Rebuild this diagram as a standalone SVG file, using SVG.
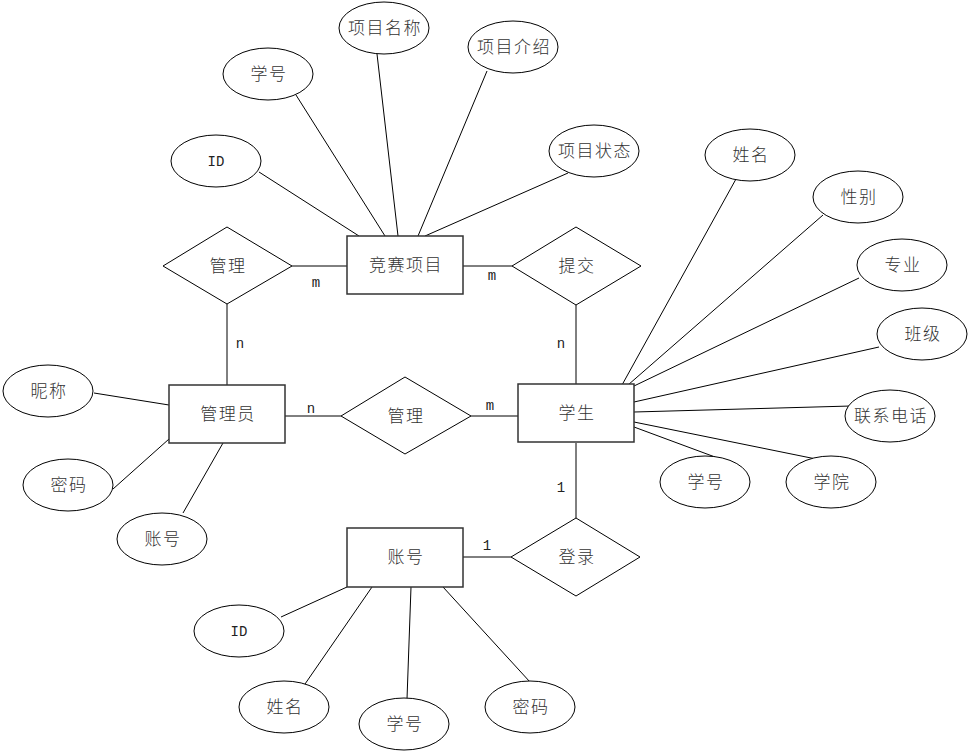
<svg xmlns="http://www.w3.org/2000/svg" width="972" height="755" viewBox="0 0 972 755">
<style>
.e{fill:#fff;stroke:#000;stroke-width:1}
.r{fill:#fff;stroke:#333;stroke-width:1.5}
.d{fill:#fff;stroke:#000;stroke-width:1}
.l{stroke:#000;stroke-width:1;fill:none}
.t{font-family:"Noto Sans CJK SC","Noto Sans",sans-serif;font-size:17px;font-weight:300;fill:#333;text-anchor:middle;letter-spacing:1.5px}
.a{font-family:"Liberation Mono",monospace;font-size:14px;fill:#222;text-anchor:middle}
</style>
<rect width="972" height="755" fill="#fff"/>
<g id="connectors">
<line class="l" x1="259" y1="172" x2="359" y2="236"/>
<line class="l" x1="296" y1="95" x2="385" y2="236"/>
<line class="l" x1="377" y1="54" x2="398" y2="236"/>
<line class="l" x1="487" y1="71" x2="418" y2="236"/>
<line class="l" x1="568" y1="173" x2="425" y2="236"/>
<line class="l" x1="292" y1="266" x2="347" y2="266"/>
<line class="l" x1="463" y1="266" x2="512" y2="266"/>
<line class="l" x1="227" y1="304" x2="227" y2="385"/>
<line class="l" x1="576" y1="305" x2="576" y2="384"/>
<line class="l" x1="285" y1="416" x2="341" y2="416"/>
<line class="l" x1="471" y1="416" x2="518" y2="416"/>
<line class="l" x1="576" y1="443" x2="576" y2="518"/>
<line class="l" x1="463" y1="557" x2="511" y2="557"/>
<line class="l" x1="94" y1="393" x2="169" y2="405"/>
<line class="l" x1="113" y1="489" x2="169" y2="439"/>
<line class="l" x1="183" y1="513" x2="223" y2="443"/>
<line class="l" x1="736" y1="179" x2="622" y2="385"/>
<line class="l" x1="823" y1="215" x2="628" y2="385"/>
<line class="l" x1="859" y1="278" x2="634" y2="386"/>
<line class="l" x1="879" y1="347" x2="634" y2="402"/>
<line class="l" x1="851" y1="406" x2="634" y2="412"/>
<line class="l" x1="816" y1="459" x2="634" y2="422"/>
<line class="l" x1="715" y1="457" x2="634" y2="427"/>
<line class="l" x1="281" y1="617" x2="347" y2="587"/>
<line class="l" x1="305" y1="684" x2="372" y2="587"/>
<line class="l" x1="407" y1="699" x2="411" y2="587"/>
<line class="l" x1="530" y1="682" x2="443" y2="587"/>
<text class="a" x="316" y="287">m</text>
<text class="a" x="492" y="280">m</text>
<text class="a" x="240" y="348">n</text>
<text class="a" x="561" y="348">n</text>
<text class="a" x="311" y="413">n</text>
<text class="a" x="490" y="410">m</text>
<text class="a" x="561" y="492">1</text>
<text class="a" x="487" y="550">1</text>
</g>
<g id="jingsai"><rect class="r" x="347" y="236" width="116" height="58"/><text class="t" x="406" y="271">竞赛项目</text></g>
<g id="a_id1"><ellipse class="e" cx="216" cy="161" rx="45" ry="26"/><text class="a" x="216" y="166">ID</text></g>
<g id="a_xh1"><ellipse class="e" cx="268" cy="74" rx="45" ry="26"/><text class="t" x="269" y="80">学号</text></g>
<g id="a_xmmc"><ellipse class="e" cx="384" cy="28" rx="45" ry="26"/><text class="t" x="385" y="34">项目名称</text></g>
<g id="a_xmjs"><ellipse class="e" cx="513" cy="47" rx="45" ry="26"/><text class="t" x="514" y="53">项目介绍</text></g>
<g id="a_xmzt"><ellipse class="e" cx="594" cy="151" rx="45" ry="26"/><text class="t" x="595" y="157">项目状态</text></g>
<g id="r_guanli1"><polygon class="d" points="163,266 227,227 292,266 227,304"/><text class="t" x="228" y="272">管理</text></g>
<g id="r_tijiao"><polygon class="d" points="512,266 576,227 641,266 576,305"/><text class="t" x="577" y="272">提交</text></g>
<g id="guanliyuan"><rect class="r" x="169" y="385" width="116" height="58"/><text class="t" x="228" y="420">管理员</text></g>
<g id="a_nc"><ellipse class="e" cx="48" cy="391" rx="45" ry="26"/><text class="t" x="49" y="397">昵称</text></g>
<g id="a_mm1"><ellipse class="e" cx="68" cy="485" rx="45" ry="26"/><text class="t" x="69" y="491">密码</text></g>
<g id="a_zh1"><ellipse class="e" cx="162" cy="539" rx="45" ry="26"/><text class="t" x="163" y="545">账号</text></g>
<g id="r_guanli2"><polygon class="d" points="341,416 405,377 471,416 405,454"/><text class="t" x="406" y="422">管理</text></g>
<g id="xuesheng"><rect class="r" x="518" y="384" width="116" height="58"/><text class="t" x="577" y="419">学生</text></g>
<g id="a_xm"><ellipse class="e" cx="750" cy="155" rx="45" ry="26"/><text class="t" x="751" y="161">姓名</text></g>
<g id="a_xb"><ellipse class="e" cx="858" cy="197" rx="45" ry="26"/><text class="t" x="859" y="203">性别</text></g>
<g id="a_zy"><ellipse class="e" cx="902" cy="265" rx="45" ry="26"/><text class="t" x="903" y="271">专业</text></g>
<g id="a_bj"><ellipse class="e" cx="922" cy="334" rx="45" ry="26"/><text class="t" x="923" y="340">班级</text></g>
<g id="a_lxdh"><ellipse class="e" cx="890" cy="416" rx="45" ry="26"/><text class="t" x="891" y="422">联系电话</text></g>
<g id="a_xh2"><ellipse class="e" cx="705" cy="482" rx="45" ry="26"/><text class="t" x="706" y="488">学号</text></g>
<g id="a_xy"><ellipse class="e" cx="831" cy="482" rx="45" ry="26"/><text class="t" x="832" y="488">学院</text></g>
<g id="r_denglu"><polygon class="d" points="511,557 576,518 640,557 576,596"/><text class="t" x="577" y="563">登录</text></g>
<g id="zhanghao"><rect class="r" x="347" y="528" width="116" height="59"/><text class="t" x="406" y="563">账号</text></g>
<g id="a_id2"><ellipse class="e" cx="239" cy="631" rx="45" ry="26"/><text class="a" x="239" y="636">ID</text></g>
<g id="a_xm2"><ellipse class="e" cx="284" cy="707" rx="45" ry="26"/><text class="t" x="285" y="713">姓名</text></g>
<g id="a_xh3"><ellipse class="e" cx="404" cy="724" rx="45" ry="26"/><text class="t" x="405" y="730">学号</text></g>
<g id="a_mm2"><ellipse class="e" cx="530" cy="707" rx="45" ry="26"/><text class="t" x="531" y="713">密码</text></g>
</svg>
